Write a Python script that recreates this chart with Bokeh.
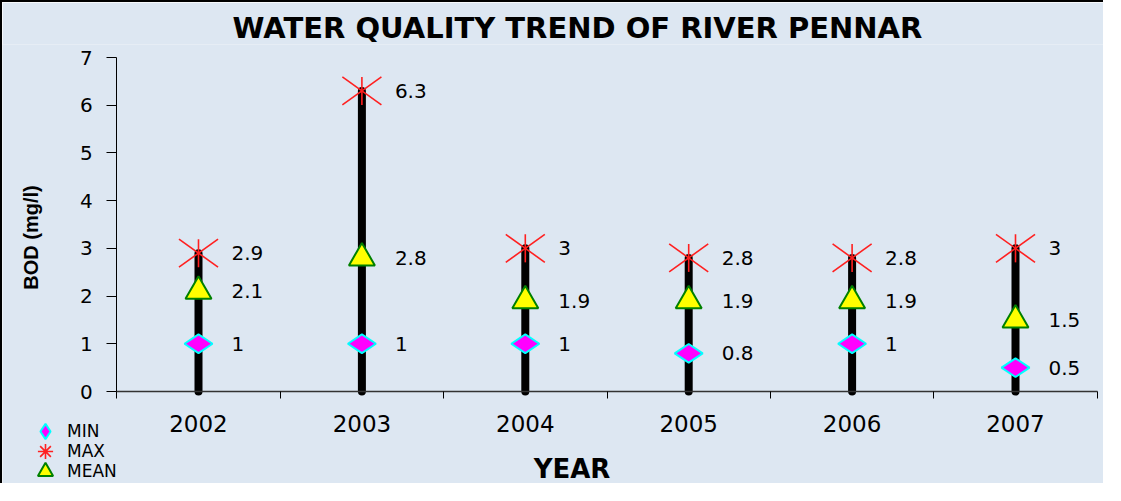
import math
from bokeh.plotting import figure
from bokeh.models import (Range1d, FixedTicker, Label, Legend, LegendItem, ColumnDataSource)
from bokeh.core.properties import value
from bokeh.embed import file_html
from bokeh.resources import INLINE

years = ["2002", "2003", "2004", "2005", "2006", "2007"]
bod_min = [1, 1, 1, 0.8, 1, 0.5]
bod_max = [2.9, 6.3, 3, 2.8, 2.8, 3]
bod_mean = [2.1, 2.8, 1.9, 1.9, 1.9, 1.5]
y_ticks = [0, 1, 2, 3, 4, 5, 6, 7]

xs = list(range(1, len(years) + 1))
zeros = [0] * len(years)
src = ColumnDataSource(dict(
    x=xs, mn=bod_min, mx=bod_max, me=bod_mean, z=zeros,
    mn_t=[f"{v:g}" for v in bod_min],
    mx_t=[f"{v:g}" for v in bod_max],
    me_t=[f"{v:g}" for v in bod_mean],
))

FONT = "DejaVu Sans"
BG = "#DDE7F2"

# layout (pixels in figure coordinates)
W, H = 1103, 483
FL, FR, FT, FB = 0, W, 42, H               # frame edges
AX_L, AX_R = 114.3, 1094.7                 # x axis extent (px)
AX_TOP, AX_BOT = 55, 389                   # y axis extent (px)
x_lo, x_hi = xs[0] - 0.5, xs[-1] + 0.5
y_lo, y_hi = y_ticks[0], y_ticks[-1]
xpp = (x_hi - x_lo) / (AX_R - AX_L)
ypp = (y_hi - y_lo) / (AX_BOT - AX_TOP)
x_range = Range1d(x_lo - (AX_L - FL) * xpp, x_hi + (FR - AX_R) * xpp)
y_range = Range1d(y_lo - (FB - AX_BOT) * ypp, y_hi + (AX_TOP - FT) * ypp)

p = figure(width=W, height=H, output_backend="svg", toolbar_location=None,
           x_range=x_range, y_range=y_range,
           min_border_left=FL, min_border_right=W - FR, min_border_top=FT, min_border_bottom=H - FB)
p.styles = {"border-top": "2px solid black", "border-left": "2px solid black"}
p.background_fill_color = BG
p.border_fill_color = BG
p.outline_line_color = None
p.xgrid.grid_line_color = None
p.ygrid.grid_line_color = None

p.title.text = "WATER QUALITY TREND OF RIVER PENNAR"
p.title.text_font = FONT
p.title.text_font_size = "29px"
p.title.text_font_style = "bold"
p.title.text_color = "black"
p.title.align = "left"
p.title.offset = 230
p.title.standoff = 0

# axes
xa = p.xaxis[0]
xa.fixed_location = y_lo
xa.bounds = (x_lo, x_hi)
xa.ticker = FixedTicker(ticks=xs, minor_ticks=[i + 0.5 for i in range(0, len(years) + 1)])
xa.major_label_overrides = {x: y for x, y in zip(xs, years)}
xa.major_tick_line_color = None
xa.minor_tick_in = 0
xa.minor_tick_out = 7
xa.minor_tick_line_color = "black"
xa.axis_line_color = "#333333"
xa.axis_line_width = 1.5
xa.major_label_text_font = FONT
xa.major_label_text_font_size = "23px"
xa.major_label_standoff = 16
xa.major_label_text_color = "black"

ya = p.yaxis[0]
ya.fixed_location = x_lo
ya.bounds = (y_lo, y_hi)
ya.ticker = FixedTicker(ticks=y_ticks, minor_ticks=[])
ya.major_tick_in = 0
ya.major_tick_out = 10
ya.major_tick_line_color = "black"
ya.axis_line_color = "black"
ya.major_label_text_font = FONT
ya.major_label_text_font_size = "20px"
ya.major_label_standoff = 14
ya.major_label_text_color = "black"

p.add_layout(Label(x=(xs[0] + xs[-1]) / 2, y=y_lo, x_offset=-35, y_offset=-77, text="YEAR",
                   text_font=FONT, text_font_size="26px", text_font_style="bold",
                   text_align="center", text_baseline="middle", text_color="black"))
p.add_layout(Label(x=x_lo, y=(y_lo + y_hi) / 2, x_offset=-86, y_offset=-13, text="BOD (mg/l)",
                   angle=math.pi / 2, text_font="Liberation Sans", text_font_size="20px",
                   text_font_style="bold", text_align="center", text_baseline="middle",
                   text_color="black"))

# stems
p.segment(x0="x", y0="z", x1="x", y1="mx", source=src, line_color="black", line_width=8, line_cap="round")

r_min = p.scatter("x", "mn", source=src, marker="diamond", angle=math.pi / 2, size=28,
                  fill_color="#FF00FF", line_color="#00FFFF", line_width=2)
r_mean = p.scatter("x", "me", source=src, marker="triangle", size=26,
                   fill_color="#FFFF00", line_color="#008000", line_width=2)
RED = "#FF2020"
p.scatter("x", "mx", source=src, marker="dash", angle=math.pi / 2, size=28, line_color=RED, line_width=1.6)
p.scatter("x", "mx", source=src, marker="dash", angle=0.62, size=48, line_color=RED, line_width=1.6)
p.scatter("x", "mx", source=src, marker="dash", angle=-0.62, size=48, line_color=RED, line_width=1.6)
# legend-only symbol for MAX (legend glyphs ignore marker angles)
r_max_leg = p.scatter("x", "mx", source=src, marker="asterisk", size=20, line_color=RED, line_width=1.6,
                      visible=False)

for col, tcol in (("mn", "mn_t"), ("mx", "mx_t"), ("me", "me_t")):
    p.text("x", col, text=tcol, source=src, x_offset=33, text_baseline="middle", text_align="left",
           text_font=value(FONT), text_font_size="20px", text_color="black")

# one legend per entry so rows can sit close together
row_centers = [429, 449, 469]
for (lab, rend), c in zip((("MIN", r_min), ("MAX", r_max_leg), ("MEAN", r_mean)), row_centers):
    lg = Legend(items=[LegendItem(label=lab, renderers=[rend])], location=(24, H - (c + 19)))
    lg.label_text_font = FONT
    lg.label_text_font_size = "17px"
    lg.label_text_color = "black"
    lg.label_height = 38
    lg.glyph_height = 38
    lg.glyph_width = 38
    lg.spacing = 0
    lg.padding = 0
    lg.margin = 0
    lg.label_standoff = 3
    lg.background_fill_alpha = 0
    lg.border_line_color = None
    p.add_layout(lg, "center")

open("out.html", "w").write(file_html(p, INLINE))
